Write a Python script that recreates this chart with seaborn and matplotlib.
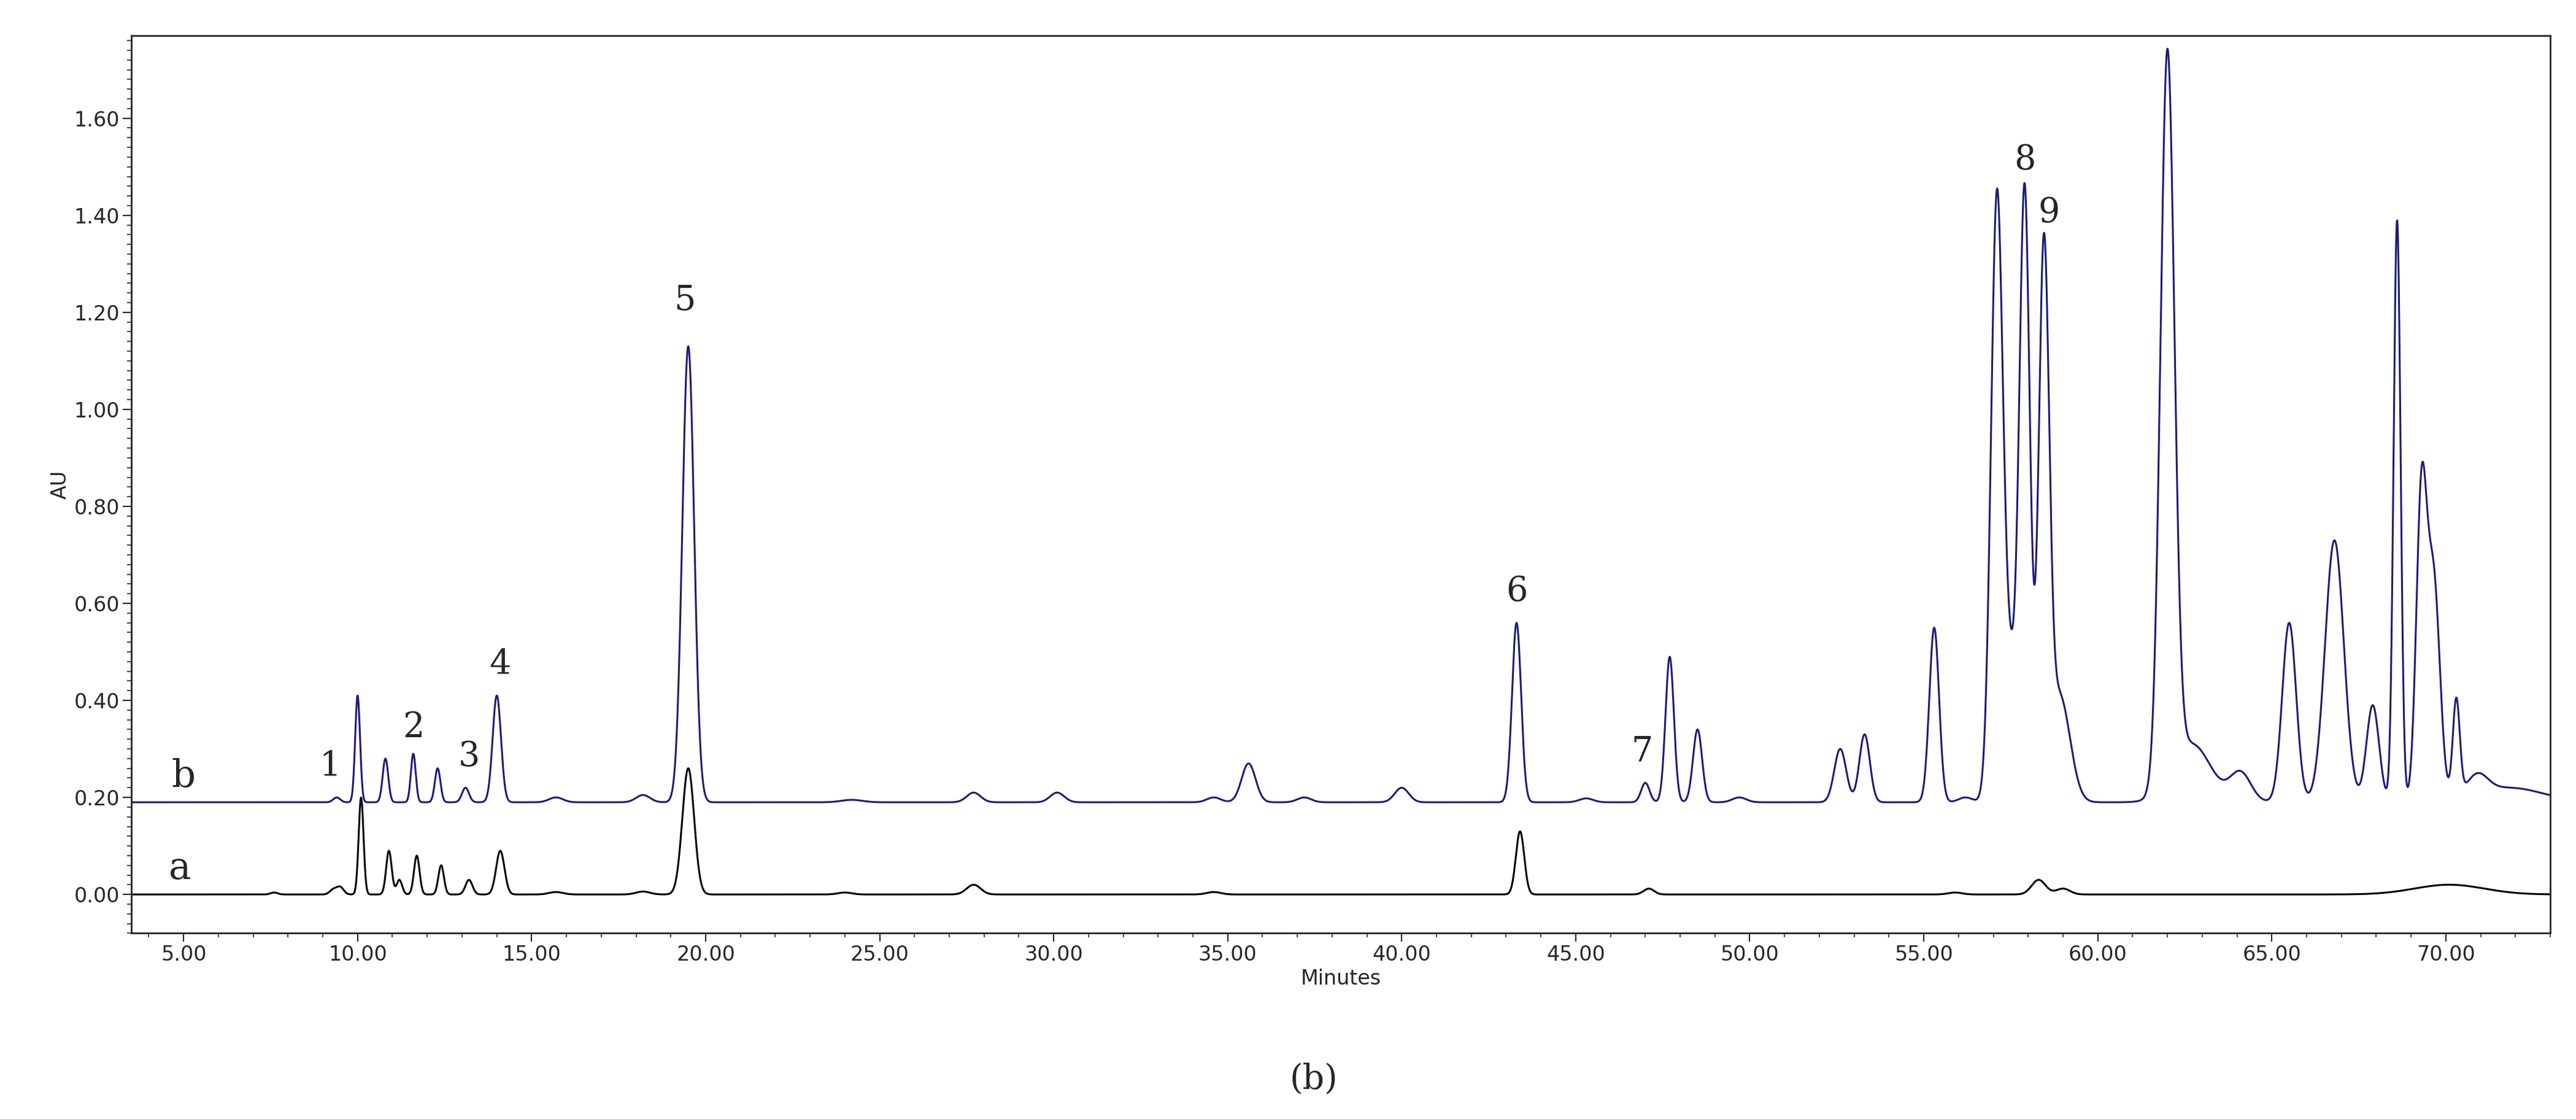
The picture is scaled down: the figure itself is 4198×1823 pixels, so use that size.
import numpy as np
import pandas as pd
import matplotlib
matplotlib.use('Agg')
import matplotlib.pyplot as plt
import seaborn as sns
from matplotlib.ticker import MultipleLocator

# peak tables: retention time (min), height above baseline (AU), width (min)
b_rt = [9.4, 10.0, 10.8, 11.6, 12.3, 13.1, 14.0, 15.7, 18.2, 19.5, 24.2, 27.7, 30.1, 34.6, 35.6, 37.2, 40.0,
        43.3, 45.3, 47.0, 47.7, 48.5, 49.7, 52.6, 53.3, 55.3, 56.2, 57.1, 57.5, 57.9, 58.45, 58.9, 62.0, 62.7,
        64.1, 65.5, 66.8, 67.9, 68.6, 69.3, 69.65, 70.3, 70.9, 71.8]
b_h = [0.01, 0.22, 0.09, 0.10, 0.07, 0.03, 0.22, 0.01, 0.015, 0.94, 0.005, 0.02, 0.02, 0.01, 0.08, 0.01, 0.03,
       0.37, 0.008, 0.04, 0.30, 0.15, 0.01, 0.11, 0.14, 0.36, 0.01, 1.23, 0.25, 1.24, 1.10, 0.22, 1.50, 0.12,
       0.06, 0.37, 0.54, 0.20, 1.20, 0.62, 0.45, 0.20, 0.04, 0.03]
b_w = [0.10, 0.07, 0.08, 0.07, 0.08, 0.10, 0.12, 0.20, 0.20, 0.17, 0.3, 0.2, 0.2, 0.2, 0.2, 0.2, 0.2,
       0.13, 0.2, 0.12, 0.12, 0.13, 0.2, 0.17, 0.15, 0.14, 0.2, 0.17, 0.2, 0.15, 0.15, 0.30, 0.20, 0.55,
       0.30, 0.20, 0.27, 0.18, 0.10, 0.15, 0.18, 0.10, 0.3, 1.0]
b_base = 0.19

a_rt = [7.6, 9.3, 9.5, 10.1, 10.9, 11.2, 11.7, 12.4, 13.2, 14.1, 15.7, 18.2, 19.5, 24.0, 27.7, 34.6, 43.4,
        47.1, 55.9, 58.3, 59.0, 70.1]
a_h = [0.004, 0.01, 0.015, 0.20, 0.09, 0.03, 0.08, 0.06, 0.03, 0.09, 0.005, 0.006, 0.26, 0.004, 0.02, 0.005,
       0.13, 0.012, 0.004, 0.03, 0.012, 0.02]
a_w = [0.1, 0.1, 0.1, 0.07, 0.08, 0.08, 0.08, 0.08, 0.10, 0.12, 0.2, 0.2, 0.17, 0.2, 0.2, 0.2, 0.12,
       0.15, 0.2, 0.2, 0.2, 1.0]
a_base = 0.0

peak_labels = ['1', '2', '3', '4', '5', '6', '7', '8', '9']
label_x = [9.2, 11.6, 13.2, 14.1, 19.4, 43.3, 46.9, 57.9, 58.6]
label_y = [0.23, 0.31, 0.25, 0.44, 1.19, 0.59, 0.26, 1.48, 1.37]

t = np.linspace(3.5, 73.0, 8000)


def trace(rt, h, w, base):
    y = np.full_like(t, base)
    for r, hh, ww in zip(rt, h, w):
        y += hh * np.exp(-0.5 * ((t - r) / ww) ** 2)
    return y


df = pd.DataFrame({'Minutes': np.concatenate([t, t]),
                   'AU': np.concatenate([trace(b_rt, b_h, b_w, b_base), trace(a_rt, a_h, a_w, a_base)]),
                   'sample': ['b'] * len(t) + ['a'] * len(t)})

sns.set_style('ticks')
fig = plt.figure(figsize=(41.98, 18.23), dpi=100)
ax = fig.add_axes([0.051, 0.166, 0.939, 0.802])
sns.lineplot(data=df, x='Minutes', y='AU', hue='sample', palette={'b': '#1c1c78', 'a': 'black'},
             linewidth=2.2, legend=False, ax=ax, estimator=None, sort=False)

ax.set_xlim(3.5, 73.0)
ax.set_ylim(-0.08, 1.77)
ax.xaxis.set_major_locator(MultipleLocator(5))
ax.xaxis.set_minor_locator(MultipleLocator(1))
ax.yaxis.set_major_locator(MultipleLocator(0.2))
ax.yaxis.set_minor_locator(MultipleLocator(0.02))
ax.xaxis.set_major_formatter(plt.FormatStrFormatter('%.2f'))
ax.yaxis.set_major_formatter(plt.FormatStrFormatter('%.2f'))
ax.tick_params(which='major', length=10, width=1.5, labelsize=24)
ax.tick_params(which='minor', length=5, width=1.2)
for s in ax.spines.values():
    s.set_linewidth(2)
    s.set_visible(True)
ax.set_xlabel('Minutes', fontsize=24, labelpad=4)
ax.set_ylabel('AU', fontsize=24)

for lab, x, y in zip(peak_labels, label_x, label_y):
    ax.text(x, y, lab, fontsize=40, family='DejaVu Serif', ha='center', va='bottom')
ax.text(5.0, 0.205, 'b', fontsize=44, family='DejaVu Serif', ha='center', va='bottom')
ax.text(4.9, 0.015, 'a', fontsize=44, family='DejaVu Serif', ha='center', va='bottom')
fig.text(0.51, 0.035, '(b)', fontsize=40, family='DejaVu Serif', ha='center', va='center')

fig.savefig('out.png', dpi=100)
